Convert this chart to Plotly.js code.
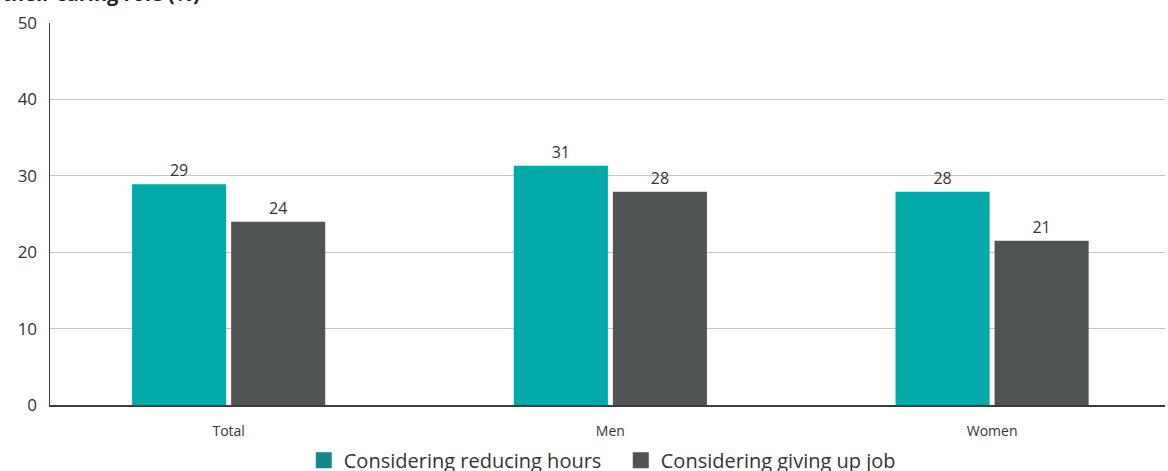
<!DOCTYPE html>
<html>
<head>
<meta charset="utf-8">
<script src="https://cdn.plot.ly/plotly-3.0.1.min.js"></script>
<style>html,body{margin:0;padding:0;background:#fff;}#chart{width:1168px;height:471px;}</style>
</head>
<body>
<div id="chart"></div>
<script>
var categories = ['Total', 'Men', 'Women'];
var reducingHours = [28.9, 31.3, 27.9];
var givingUpJob = [24.0, 27.9, 21.5];
var reducingLabels = ['29', '31', '28'];
var givingUpLabels = ['24', '28', '21'];
var seriesNames = ['Considering reducing hours', 'Considering giving up job'];
var titleText = 'their caring role (%)';

var FONT = '"Open Sans", "Noto Sans", sans-serif';
var barColors = ['#00aaa9', '#505455'];
var swatchColors = ['#13898f', '#505455'];

var traces = [
  {type: 'bar', x: categories, y: reducingHours, name: seriesNames[0], showlegend: false,
   marker: {color: barColors[0]}, text: reducingLabels, textposition: 'outside',
   textfont: {family: FONT, size: 16, color: '#333'}, cliponaxis: false, hoverinfo: 'x+y'},
  {type: 'bar', x: categories, y: givingUpJob, name: seriesNames[1], showlegend: false,
   marker: {color: barColors[1]}, text: givingUpLabels, textposition: 'outside',
   textfont: {family: FONT, size: 16, color: '#333'}, cliponaxis: false, hoverinfo: 'x+y'},
  {type: 'scatter', mode: 'markers', x: [categories[0]], y: [null], name: seriesNames[0],
   marker: {symbol: 'square', size: 20, color: swatchColors[0]}, hoverinfo: 'skip'},
  {type: 'scatter', mode: 'markers', x: [categories[0]], y: [null], name: seriesNames[1],
   marker: {symbol: 'square', size: 20, color: swatchColors[1]}, hoverinfo: 'skip'}
];

var layout = {
  width: 1168, height: 471,
  margin: {l: 50, r: 3, t: 23, b: 66, autoexpand: false},
  paper_bgcolor: '#fff', plot_bgcolor: '#fff',
  font: {family: FONT, color: '#333'},
  title: {text: '<b>' + titleText + '</b>', x: 0.002, xanchor: 'left', xref: 'container',
          y: 0.997, yanchor: 'bottom', yref: 'container', automargin: false,
          font: {family: FONT, size: 20, color: '#222'}},
  barmode: 'group', bargap: 0.481, bargroupgap: 0.05,
  showlegend: true,
  legend: {orientation: 'h', x: 0.2276, xanchor: 'left', y: 0.064, yanchor: 'top', yref: 'container',
           entrywidth: 272, entrywidthmode: 'pixels',
           font: {family: FONT, size: 20, color: '#333'}, itemsizing: 'trace',
           traceorder: 'normal', bgcolor: 'rgba(0,0,0,0)'},
  xaxis: {type: 'category', range: [-0.468, 2.453], showgrid: false, zeroline: false,
          showline: true, linecolor: '#3a3d3e', linewidth: 2, ticks: '',
          tickfont: {family: FONT, size: 14, color: '#333'}, ticklabelstandoff: 12},
  yaxis: {range: [0, 50], dtick: 10, tick0: 0, showgrid: true, gridcolor: '#c6c6c6', gridwidth: 1,
          zeroline: false, showline: true, linecolor: '#3a3d3e', linewidth: 1.5, ticks: '',
          tickfont: {family: FONT, size: 17, color: '#333'}, ticklabelstandoff: 8}
};

Plotly.newPlot('chart', traces, layout, {displayModeBar: false, staticPlot: true});
</script>
</body>
</html>
